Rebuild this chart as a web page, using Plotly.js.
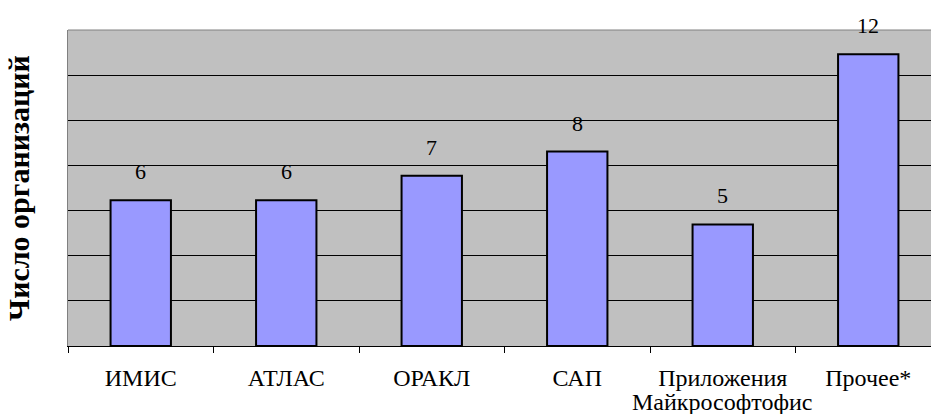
<!DOCTYPE html>
<html>
<head>
<meta charset="utf-8">
<script src="https://cdn.plot.ly/plotly-3.0.1.min.js"></script>
<style>
html,body{margin:0;padding:0;overflow:hidden;background:#fff;}
#chart{width:945px;height:414px;}
</style>
</head>
<body>
<div id="chart"></div>
<script>
// Data
const categories = ['ИМИС', 'АТЛАС', 'ОРАКЛ', 'САП', 'Приложения Майкрософтофис', 'Прочее*'];
const labelLine1 = ['ИМИС', 'АТЛАС', 'ОРАКЛ', 'САП', 'Приложения', 'Прочее*'];
const labelLine2 = ['', '', '', '', 'Майкрософтофис', ''];
const counts = [6, 6, 7, 8, 5, 12];
const yTitle = 'Число организаций';

const serif = 'Liberation Serif';

const trace = {
  type: 'bar',
  x: categories,
  y: counts,
  marker: {color: '#9999FF', line: {color: '#000000', width: 2}},
  hoverinfo: 'x+y'
};

const annotations = [];
categories.forEach((c, i) => {
  annotations.push({
    x: c, y: counts[i], xref: 'x', yref: 'y',
    text: String(counts[i]), showarrow: false,
    yanchor: 'bottom', yshift: 14,
    font: {family: serif, size: 22, color: '#000'}
  });
  if (labelLine2[i]) {
    annotations.push({
      x: c, y: 0, xref: 'x', yref: 'paper',
      text: labelLine2[i], showarrow: false,
      yanchor: 'top', yshift: -41,
      font: {family: serif, size: 24, color: '#000'}
    });
  }
});

const layout = {
  width: 945, height: 414,
  margin: {l: 68, r: 4, t: 30, b: 68},
  paper_bgcolor: '#ffffff',
  plot_bgcolor: '#C0C0C0',
  showlegend: false,
  bargap: 0.585,
  font: {family: serif},
  xaxis: {
    type: 'category',
    tickmode: 'array',
    tickvals: categories,
    ticktext: labelLine1,
    tickson: 'boundaries',
    ticks: 'outside', ticklen: 6, tickcolor: '#000', tickwidth: 1,
    ticklabelstandoff: 10,
    tickfont: {family: serif, size: 24, color: '#000'},
    showline: true, linecolor: '#000', linewidth: 1,
    showgrid: false, zeroline: false,
    automargin: false
  },
  yaxis: {
    range: [0, 13],
    tickmode: 'linear', tick0: 0, dtick: 13 / 7,
    showticklabels: false, ticks: '',
    showgrid: true, gridcolor: '#000', gridwidth: 1,
    zeroline: false,
    showline: true, linecolor: '#808080', linewidth: 1, mirror: true,
    title: {text: yTitle, standoff: 28, font: {family: serif, size: 30, color: '#000', weight: 'bold'}},
    automargin: false
  },
  shapes: [{
    type: 'line', xref: 'paper', yref: 'paper', x0: 0, x1: 1, y0: 1, y1: 1,
    line: {color: '#808080', width: 1}, layer: 'above'
  }],
  annotations: annotations
};

Plotly.newPlot('chart', [trace], layout, {displayModeBar: false, staticPlot: true});
</script>
</body>
</html>
